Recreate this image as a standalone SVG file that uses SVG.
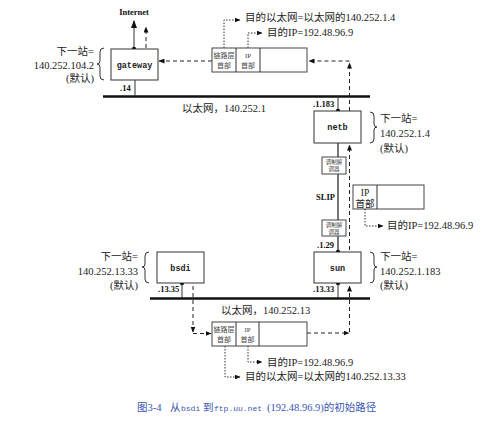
<svg xmlns="http://www.w3.org/2000/svg" width="485" height="426" viewBox="0 0 485 426">
<defs>
<marker id="ah" markerWidth="8" markerHeight="6" refX="7" refY="3" orient="auto" markerUnits="userSpaceOnUse">
<path d="M0,0 L8,3 L0,6 Z" fill="#111"/>
</marker>
<marker id="ahs" markerWidth="6" markerHeight="5" refX="5.5" refY="2.5" orient="auto" markerUnits="userSpaceOnUse">
<path d="M0,0 L6,2.5 L0,5 Z" fill="#111"/>
</marker>
<style>
.t{font-family:"Liberation Serif","Noto Sans CJK SC",serif;font-size:10.5px;fill:#222}
.m{font-family:"Liberation Mono","DejaVu Sans Mono",monospace;font-size:8.5px;font-weight:bold;fill:#222;text-anchor:middle}
.b{font-family:"Liberation Serif","Noto Sans CJK SC",serif;font-size:8.5px;font-weight:bold;fill:#111}
.s{font-family:"Liberation Serif","Noto Sans CJK SC",serif;font-size:7px;fill:#444;text-anchor:middle}
.xs{font-family:"Liberation Serif","Noto Sans CJK SC",serif;font-size:5.5px;fill:#444;text-anchor:middle}
.box{fill:#fff;stroke:#333;stroke-width:1}
.pk{fill:#fff;stroke:#444;stroke-width:1}
.net{stroke:#111;stroke-width:2.5}
.ln{stroke:#333;stroke-width:1;fill:none}
.dash{stroke:#222;stroke-width:1;fill:none;stroke-dasharray:4,3}
.dot{stroke:#333;stroke-width:1;fill:none;stroke-dasharray:1.5,1.5}
.br{stroke:#333;stroke-width:1;fill:none}
.cap{font-family:"Liberation Serif","Noto Sans CJK SC",serif;font-size:10.5px;fill:#3a56b0}
.capm{font-family:"Liberation Mono","DejaVu Sans Mono",monospace;font-size:8px;fill:#3a56b0}
</style>
</defs>

<g id="networks">
<line class="net" x1="103" y1="96.5" x2="370" y2="96.5"/>
<text class="t" x="182" y="112">以太网，140.252.1</text>
<line class="net" x1="150" y1="298.5" x2="370" y2="298.5"/>
<text class="t" x="221" y="314">以太网，140.252.13</text>
</g>

<g id="connectors">
<line class="ln" x1="134" y1="49" x2="134" y2="21" marker-end="url(#ah)"/>
<line class="dash" x1="146" y1="48" x2="146" y2="27" marker-end="url(#ahs)"/>
<line class="ln" x1="135" y1="80" x2="135" y2="96"/>
<line class="dash" x1="212" y1="61" x2="159" y2="61" marker-end="url(#ahs)"/>
<line class="ln" x1="338" y1="96" x2="338" y2="111"/>
<line class="dash" x1="349.5" y1="111" x2="349.5" y2="63" marker-end="url(#ahs)"/>
<line class="dash" x1="349.5" y1="61" x2="309" y2="61" marker-end="url(#ahs)"/>
<line x1="338" y1="143" x2="338" y2="252" stroke="#777" stroke-width="2"/>
<line class="dash" x1="349.5" y1="250" x2="349.5" y2="145" marker-end="url(#ahs)"/>
<line class="ln" x1="338" y1="283" x2="338" y2="298"/>
<line class="dash" x1="349.5" y1="332" x2="349.5" y2="286" marker-end="url(#ahs)"/>
<line class="dash" x1="307" y1="333" x2="349" y2="333" marker-end="url(#ahs)"/>
<line class="ln" x1="182" y1="283" x2="182" y2="298"/>
<line class="dash" x1="193" y1="286" x2="193" y2="332" marker-end="url(#ahs)"/>
<line class="dash" x1="193" y1="333.5" x2="211" y2="333.5" marker-end="url(#ahs)"/>
<circle cx="134" cy="49" r="2.2" fill="#111"/>
<circle cx="338" cy="111" r="2.2" fill="#111"/>
<circle cx="338" cy="252" r="2.2" fill="#111"/>
<circle cx="338" cy="283" r="2.2" fill="#111"/>
<circle cx="182" cy="283" r="2.2" fill="#111"/>
<path class="dot" d="M224,48 V20 H240" marker-end="url(#ahs)"/>
<path class="dot" d="M248,48 V33 H262" marker-end="url(#ahs)"/>
<path class="dot" d="M365,209 V226 H383" marker-end="url(#ahs)"/>
<path class="dot" d="M248,346 V362 H262" marker-end="url(#ahs)"/>
<path class="dot" d="M225,346 V377 H240" marker-end="url(#ahs)"/>
</g>

<g id="internet">
<text class="b" x="134" y="15" text-anchor="middle">Internet</text>
</g>

<g id="gateway">
<rect class="box" x="111" y="49" width="47" height="31"/>
<text class="m" x="134.5" y="67.5">gateway</text>
<text class="b" x="120" y="91">.14</text>
<text class="t" x="94" y="55" text-anchor="end">下一站=</text>
<text class="t" x="94" y="69" text-anchor="end">140.252.104.2</text>
<text class="t" x="94" y="82" text-anchor="end">(默认)</text>
<path class="br" d="M104,48 Q100,48 100,52 L100,61 Q100,64 97,64 Q100,64 100,67 L100,76 Q100,80 104,80"/>
</g>

<g id="pkt-top">
<rect class="pk" x="212" y="48" width="95" height="24"/>
<line class="ln" x1="236" y1="48" x2="236" y2="72"/>
<line class="ln" x1="260" y1="48" x2="260" y2="72"/>
<text class="s" x="224" y="58">链路层</text>
<text class="s" x="224" y="68">首部</text>
<text class="s" x="248" y="58">IP</text>
<text class="s" x="248" y="68">首部</text>
<text class="t" x="245" y="21">目的以太网=以太网的140.252.1.4</text>
<text class="t" x="267" y="36">目的IP=192.48.96.9</text>
</g>

<g id="netb">
<rect class="box" x="314" y="111" width="47" height="32"/>
<text class="m" x="337.5" y="130">netb</text>
<text class="b" x="313" y="107">.1.183</text>
<path class="br" d="M370,112 Q374,112 374,116 L374,124 Q374,127 377,127 Q374,127 374,130 L374,139 Q374,143 370,143"/>
<text class="t" x="380" y="122">下一站=</text>
<text class="t" x="380" y="137">140.252.1.4</text>
<text class="t" x="380" y="152">(默认)</text>
</g>

<g id="modem1">
<rect class="pk" x="322" y="157" width="24" height="17"/>
<text class="xs" x="334" y="164">调制解</text>
<text class="xs" x="334" y="171">调器</text>
</g>

<g id="slip">
<text class="b" x="316" y="200">SLIP</text>
</g>

<g id="modem2">
<rect class="pk" x="322" y="220" width="24" height="16"/>
<text class="xs" x="334" y="227">调制解</text>
<text class="xs" x="334" y="234">调器</text>
</g>

<g id="pkt-mid">
<rect class="pk" x="353" y="185" width="71" height="24"/>
<line class="ln" x1="377" y1="185" x2="377" y2="209"/>
<text class="t" x="365" y="196" text-anchor="middle" style="font-size:9.5px">IP</text>
<text class="t" x="365" y="206.5" text-anchor="middle" style="font-size:9.5px">首部</text>
<text class="t" x="387" y="229">目的IP=192.48.96.9</text>
</g>

<g id="sun">
<rect class="box" x="314" y="252" width="47" height="31"/>
<text class="m" x="337.5" y="270.5">sun</text>
<text class="b" x="317" y="248">.1.29</text>
<text class="b" x="313" y="292">.13.33</text>
<path class="br" d="M370,252 Q374,252 374,256 L374,264 Q374,267 377,267 Q374,267 374,270 L374,279 Q374,283 370,283"/>
<text class="t" x="380" y="260">下一站=</text>
<text class="t" x="380" y="275">140.252.1.183</text>
<text class="t" x="380" y="289">(默认)</text>
</g>

<g id="bsdi">
<rect class="box" x="157" y="252" width="47" height="31"/>
<text class="m" x="180.5" y="270.5">bsdi</text>
<text class="b" x="158" y="292">.13.35</text>
<path class="br" d="M149,252 Q145,252 145,256 L145,264 Q145,267 142,267 Q145,267 145,270 L145,279 Q145,283 149,283"/>
<text class="t" x="138" y="260" text-anchor="end">下一站=</text>
<text class="t" x="138" y="275" text-anchor="end">140.252.13.33</text>
<text class="t" x="138" y="289" text-anchor="end">(默认)</text>
</g>

<g id="pkt-bottom">
<rect class="pk" x="212" y="322" width="95" height="24"/>
<line class="ln" x1="236" y1="322" x2="236" y2="346"/>
<line class="ln" x1="259" y1="322" x2="259" y2="346"/>
<text class="s" x="224" y="332">链路层</text>
<text class="s" x="224" y="342">首部</text>
<text class="s" x="247.5" y="332">IP</text>
<text class="s" x="247.5" y="342">首部</text>
<text class="t" x="267" y="366">目的IP=192.48.96.9</text>
<text class="t" x="245" y="380">目的以太网=以太网的140.252.13.33</text>
</g>

<g id="caption">
<text class="cap" x="137" y="411">图3-4</text>
<text class="cap" x="170" y="411">从</text>
<text class="capm" x="181" y="411">bsdi</text>
<text class="cap" x="203" y="411">到</text>
<text class="capm" x="214" y="411">ftp.uu.net</text>
<text class="cap" x="267" y="411">(192.48.96.9)的初始路径</text>
</g>
</svg>
